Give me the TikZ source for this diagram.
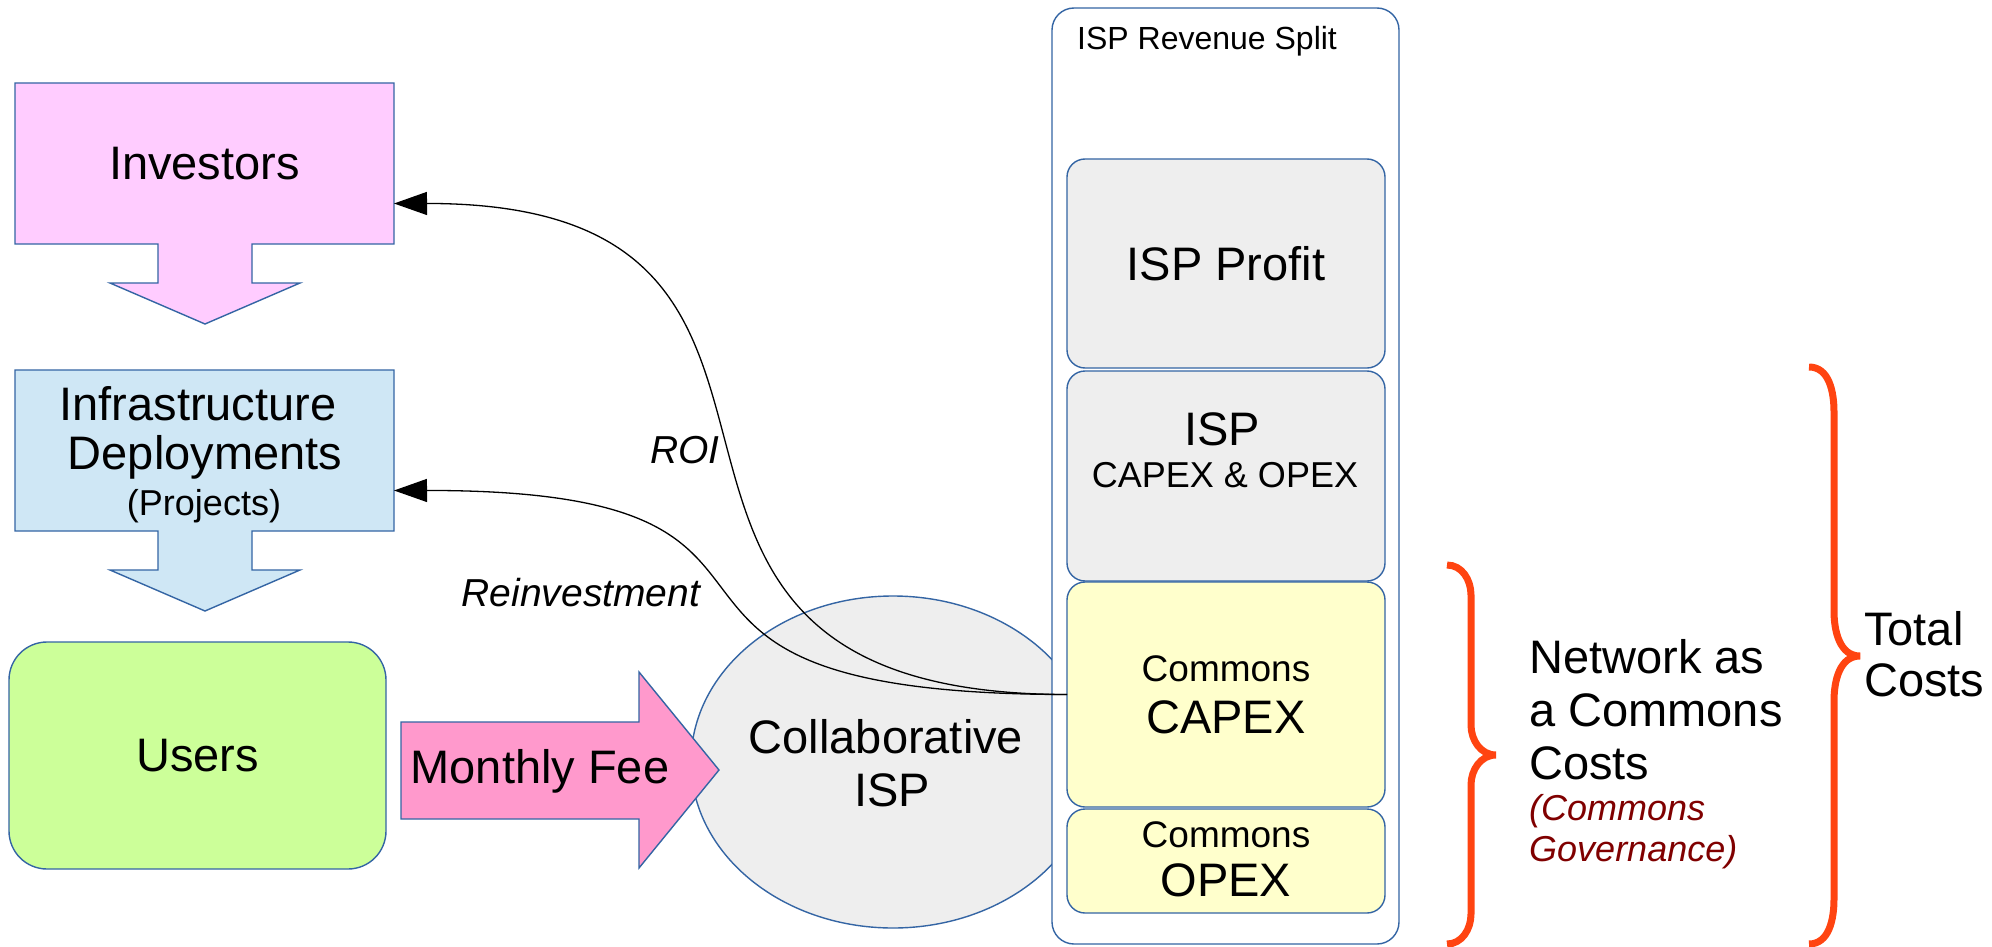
\documentclass[tikz,border=0pt]{standalone}
\usepackage{fontspec}
\setmainfont{Liberation Sans}
\usetikzlibrary{shapes.geometric,arrows.meta}
\definecolor{bord}{HTML}{3465A4}
\definecolor{invfill}{HTML}{FFCCFF}
\definecolor{infrafill}{HTML}{CFE7F5}
\definecolor{userfill}{HTML}{CCFF99}
\definecolor{feefill}{HTML}{FF99CC}
\definecolor{grayfill}{HTML}{EEEEEE}
\definecolor{yelfill}{HTML}{FFFFCC}
\definecolor{bracecol}{HTML}{FF4411}
\definecolor{govcol}{HTML}{800000}
\newcommand\myfs[1]{\fontsize{#1}{#1}\selectfont}
\begin{document}
\begin{tikzpicture}[x=1pt,y=-1pt,
  shapeline/.style={draw=bord, line width=1.4pt},
  boxnode/.style={inner sep=0pt, outer sep=0pt},
  bigtxt/.style={inner sep=0pt, font=\myfs{47}},
  midtxt/.style={inner sep=0pt, font=\myfs{37}},
  smalltxt/.style={inner sep=0pt, font=\myfs{32}},
  itxt/.style={inner sep=0pt, font=\myfs{39}\itshape},
  govtxt/.style={inner sep=0pt, font=\myfs{36}\itshape, text=govcol},
  conn/.style={black, line width=1.3pt, -{Triangle[length=33pt,width=23pt]}},
  bracepath/.style={draw=bracecol, line width=7pt}]
\useasboundingbox (0,0) rectangle (1992,947);
\fill[white] (0,0) rectangle (1992,947);

% Investors block with down arrow
\path[shapeline, fill=invfill] (15,83) -- (394,83) -- (394,244) -- (252,244) -- (252,283) -- (300,283) -- (205,324) -- (110,283) -- (158,283) -- (158,244) -- (15,244) -- cycle;
\node[boxnode, bigtxt, minimum width=379pt, minimum height=161pt] (inv) at (204.5,163.5) {Investors};

% Infrastructure block with down arrow
\path[shapeline, fill=infrafill] (15,370) -- (394,370) -- (394,531) -- (252,531) -- (252,570) -- (300,570) -- (205,611) -- (110,570) -- (158,570) -- (158,531) -- (15,531) -- cycle;
\node[boxnode, minimum width=379pt, minimum height=161pt] (infra) at (204.5,450.5) {};
\node[bigtxt] (infra1) at (198,404) {Infrastructure};
\node[bigtxt] (infra2) at (205,457) {Deployments};
\node[inner sep=0pt, font=\myfs{36}] (infra3) at (204,506) {(Projects)};

% Users
\node[boxnode, shapeline, fill=userfill, rounded corners=38pt, minimum width=377pt, minimum height=227pt, bigtxt] (users) at (197.5,755.5) {Users};

% Collaborative ISP ellipse
\node[ellipse, shapeline, fill=grayfill, inner sep=0pt, minimum width=404pt, minimum height=332pt] (cisp) at (893,762) {};
\node[bigtxt] (cisp1) at (886,737) {Collaborative};
\node[bigtxt] (cisp2) at (892,790) {ISP};

% Monthly fee arrow
\path[shapeline, fill=feefill] (401,722) -- (639,722) -- (639,672) -- (719,770) -- (639,868) -- (639,819) -- (401,819) -- cycle;
\node[bigtxt] (fee) at (540,771) {Monthly Fee};

% ISP revenue split container
\node[boxnode, shapeline, fill=white, rounded corners=22pt, minimum width=347pt, minimum height=936pt] (split) at (1225.5,476) {};
\node[smalltxt, anchor=west] (splitlbl) at (1077,41) {ISP Revenue Split};

\node[boxnode, shapeline, fill=grayfill, rounded corners=18pt, minimum width=318pt, minimum height=209pt, bigtxt] (profit) at (1226,263.5) {ISP Profit};
\node[boxnode, shapeline, fill=grayfill, rounded corners=18pt, minimum width=318pt, minimum height=210pt] (ispcost) at (1226,476) {};
\node[bigtxt] (ispcost1) at (1222,429) {ISP};
\node[inner sep=0pt, font=\myfs{36}] (ispcost2) at (1225,475) {CAPEX \& OPEX};

\node[boxnode, shapeline, fill=yelfill, rounded corners=18pt, minimum width=318pt, minimum height=225pt] (ccapex) at (1226,694.5) {};
\node[midtxt] (ccapex1) at (1226,669) {Commons};
\node[bigtxt] (ccapex2) at (1226,717) {CAPEX};

\node[boxnode, shapeline, fill=yelfill, rounded corners=18pt, minimum width=318pt, minimum height=104pt] (copex) at (1226,861) {};
\node[midtxt] (copex1) at (1226,835) {Commons};
\node[bigtxt] (copex2) at (1226,880) {OPEX};

% connectors
\draw[conn] (ccapex.west) .. controls (531,694) and (910,203) .. ([yshift=-40pt]inv.east);
\draw[conn] (ccapex.west) .. controls (553,694) and (882,490) .. ([yshift=-40pt]infra.east);
\node[itxt] (roi) at (685,450) {ROI};
\node[itxt] (reinv) at (581,593) {Reinvestment};

% braces
\draw[bracepath] (1447,565) to[out=0,in=90] (1471,595) -- (1471,725) to[out=-90,in=180] (1496,755) to[out=180,in=90] (1471,785) -- (1471,914) to[out=-90,in=0] (1447,944);
\draw[bracepath] (1809,367) to[out=0,in=90] (1834,412) -- (1834,611) to[out=-90,in=180] (1860,656) to[out=180,in=90] (1834,701) -- (1834,899) to[out=-90,in=0] (1809,944);

% brace labels
\node[bigtxt, anchor=west] (net1) at (1529,657) {Network as};
\node[bigtxt, anchor=west] (net2) at (1529,710) {a Commons};
\node[bigtxt, anchor=west] (net3) at (1529,763) {Costs};
\node[govtxt, anchor=west] (gov1) at (1529,811) {(Commons};
\node[govtxt, anchor=west] (gov2) at (1529,852) {Governance)};
\node[bigtxt, anchor=west] (tot1) at (1864,629) {Total};
\node[bigtxt, anchor=west] (tot2) at (1864,680) {Costs};
\end{tikzpicture}
\end{document}
